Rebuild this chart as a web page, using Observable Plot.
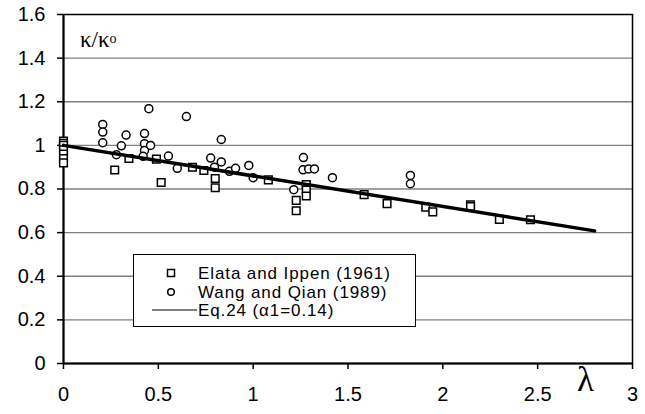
<!DOCTYPE html>
<html>
<head>
<meta charset="utf-8">
<script src="https://cdn.jsdelivr.net/npm/d3@7"></script>
<script src="https://cdn.jsdelivr.net/npm/@observablehq/plot@0.6"></script>
<style>
  body { margin: 0; background: white; }
  #wrap { position: relative; width: 645px; height: 414px; overflow: hidden; }
  .ylab { position: absolute; left: 80px; top: 27px; font-family: "Liberation Serif", "DejaVu Serif", serif; font-size: 23px; }
  .ylab .o { font-size: 14px; position: relative; top: -4px; }
  .xlab { position: absolute; left: 577px; top: 362px; font-family: "Liberation Serif", "DejaVu Serif", serif; font-size: 35px; line-height: 1; }
  #legend { position: absolute; left: 133px; top: 254px; }
</style>
</head>
<body>
<div id="wrap">
  <div id="chart"></div>
  <div class="ylab">κ/κ<span class="o">o</span></div>
  <div class="xlab">λ</div>
  <svg id="legend" width="284" height="74"></svg>
</div>
<script>
const xTicks = [0, 0.5, 1, 1.5, 2, 2.5, 3];
const yTicks = [0, 0.2, 0.4, 0.6, 0.8, 1, 1.2, 1.4, 1.6];

const seriesNames = ["Elata and Ippen (1961)", "Wang and Qian (1989)", "Eq.24 (α1=0.14)"];

// Elata and Ippen (1961)
const elataX = [0, 0, 0, 0, 0, 0, 0,
  0.27, 0.345, 0.49, 0.515, 0.68, 0.74, 0.80, 0.80, 1.08, 1.227, 1.227, 1.28, 1.28, 1.28,
  1.585, 1.706, 1.91, 1.947, 2.146, 2.146, 2.298, 2.462];
const elataY = [1.02, 1.01, 1.0, 0.98, 0.96, 0.94, 0.92,
  0.887, 0.94, 0.937, 0.83, 0.90, 0.885, 0.848, 0.806, 0.842, 0.748, 0.70, 0.82, 0.795, 0.768,
  0.774, 0.733, 0.717, 0.695, 0.728, 0.72, 0.661, 0.659];

// Wang and Qian (1989)
const wangX = [0.207, 0.207, 0.207, 0.279, 0.305, 0.33, 0.427, 0.427, 0.427, 0.42, 0.459, 0.45,
  0.553, 0.60, 0.648, 0.776, 0.796, 0.832, 0.832, 0.875, 0.907, 0.977, 1.0,
  1.214, 1.265, 1.263, 1.293, 1.323, 1.418, 1.829, 1.829];
const wangY = [1.096, 1.061, 1.012, 0.957, 0.998, 1.047, 1.054, 1.008, 0.977, 0.95, 1.0, 1.168,
  0.951, 0.895, 1.132, 0.942, 0.90, 0.924, 1.027, 0.881, 0.895, 0.908, 0.852,
  0.797, 0.944, 0.888, 0.892, 0.892, 0.852, 0.862, 0.824];

// Eq.24 line endpoints
const eqX = [0, 2.8];
const eqY = [1.0, 0.608];

const elata = elataX.map((x, i) => ({x, y: elataY[i]}));
const wang = wangX.map((x, i) => ({x, y: wangY[i]}));
const eq = eqX.map((x, i) => ({x, y: eqY[i]}));

const fmt = d => String(d);

const chart = Plot.plot({
  width: 645,
  height: 414,
  marginLeft: 63,
  marginRight: 13,
  marginTop: 14,
  marginBottom: 51,
  style: {fontFamily: "'Liberation Sans', Arial, sans-serif", fontSize: "20px", color: "black", background: "white", overflow: "visible"},
  x: {domain: [0, 3]},
  y: {domain: [0, 1.6]},
  marks: [
    Plot.gridY(yTicks.slice(1, -1), {stroke: "#808080", strokeOpacity: 1, strokeWidth: 1.3}),
    Plot.frame({stroke: "black", strokeWidth: 1.5}),
    Plot.axisX({ticks: xTicks, tickSize: 6, tickPadding: 17, tickFormat: fmt, label: null, strokeWidth: 1.5}),
    Plot.axisY({ticks: yTicks, tickSize: 6, tickPadding: 12, tickFormat: fmt, label: null, strokeWidth: 1.5}),
    Plot.ruleX([0], {stroke: "black", strokeWidth: 2}),
    Plot.ruleY([0], {stroke: "black", strokeWidth: 2}),
    Plot.dot(elata, {x: "x", y: "y", symbol: "square", r: 4.3, stroke: "black", strokeWidth: 1.5, fill: "white"}),
    Plot.dot(wang, {x: "x", y: "y", symbol: "circle", r: 4, stroke: "black", strokeWidth: 1.5, fill: "white"}),
    Plot.line(eq, {x: "x", y: "y", stroke: "black", strokeWidth: 3.5})
  ]
});
document.getElementById("chart").appendChild(chart);

// Legend
const lg = d3.select("#legend");
lg.append("rect").attr("x", 0.5).attr("y", 0.5).attr("width", 282).attr("height", 72)
  .attr("fill", "white").attr("stroke", "black").attr("stroke-width", 1);
const rowsY = [19, 38, 56];
lg.append("rect").attr("x", 38 - 3.5).attr("y", rowsY[0] - 3.5).attr("width", 7).attr("height", 7)
  .attr("fill", "white").attr("stroke", "black").attr("stroke-width", 1.5);
lg.append("circle").attr("cx", 38).attr("cy", rowsY[1]).attr("r", 3.3)
  .attr("fill", "white").attr("stroke", "black").attr("stroke-width", 1.5);
lg.append("line").attr("x1", 19).attr("x2", 64).attr("y1", rowsY[2]).attr("y2", rowsY[2])
  .attr("stroke", "black").attr("stroke-width", 1);
seriesNames.forEach((name, i) => {
  lg.append("text").attr("x", 65).attr("y", rowsY[i]).attr("dy", "0.35em")
    .attr("font-family", "'Liberation Sans', Arial, sans-serif").attr("font-size", 17)
    .attr("letter-spacing", "0.9px")
    .text(name);
});
</script>
</body>
</html>
